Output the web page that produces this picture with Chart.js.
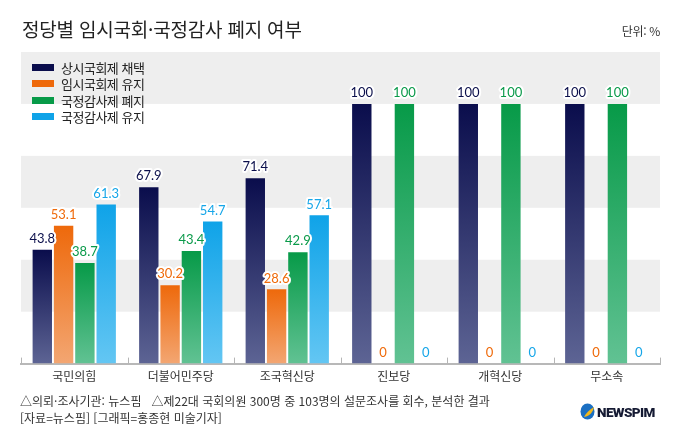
<!DOCTYPE html>
<html lang="ko">
<head>
<meta charset="utf-8">
<script src="https://cdn.jsdelivr.net/npm/chart.js@4.4.1/dist/chart.umd.min.js"></script>
<style>
  html, body { margin: 0; padding: 0; background: #fff; }
  #wrap { position: relative; width: 680px; height: 442px; overflow: hidden; font-family: 'Noto Sans CJK KR', 'Noto Sans', sans-serif; color: #333; }
  #chartBox { position: absolute; left: 0; top: 0; width: 680px; height: 442px; }
  .title { position: absolute; left: 22px; top: 15px; font-size: 19px; color: #222; letter-spacing: -0.2px; white-space: nowrap; }
  .unit { position: absolute; right: 20px; top: 22px; font-size: 12px; color: #333; letter-spacing: -0.3px; }
  .legend { position: absolute; left: 32px; top: 59px; }
  .legend .item { display: flex; align-items: center; height: 16.5px; font-size: 13px; color: #222; letter-spacing: -0.5px; white-space: nowrap; }
  .legend .box { width: 22px; height: 7px; margin-right: 7px; }
  .foot { position: absolute; left: 20px; font-size: 12px; color: #333; letter-spacing: 0px; white-space: nowrap; }
  .logo { position: absolute; left: 580px; top: 403px; display: flex; align-items: center; }
  .logo .txt { font-family: Roboto, 'Liberation Sans', sans-serif; font-weight: 900; font-size: 13.5px; color: #151a33; letter-spacing: -0.6px; margin-left: 2px; }
</style>
</head>
<body>
<div id="wrap">
  <div id="chartBox"><canvas id="c"></canvas></div>
  <div class="title">정당별 임시국회·국정감사 폐지 여부</div>
  <div class="unit">단위: %</div>
  <div class="legend" id="legend"></div>
  <div class="foot" style="top:392px">△의뢰·조사기관: 뉴스핌&nbsp;&nbsp;&nbsp;△제22대 국회의원 300명 중 103명의 설문조사를 회수, 분석한 결과</div>
  <div class="foot" style="top:409px">[자료=뉴스핌] [그래픽=홍종현 미술기자]</div>
  <div class="logo">
    <svg width="15" height="17" viewBox="0 0 15 17">
      <ellipse cx="7.5" cy="8.5" rx="7" ry="8" fill="#1b6fc2"/>
      <path d="M4 14 C6 10, 9 7, 14 4 C13 9, 10 13, 4 14 Z" fill="#f2b81c"/>
    </svg>
    <span class="txt">NEWSPIM</span>
  </div>
</div>
<script>
const categories = ['국민의힘', '더불어민주당', '조국혁신당', '진보당', '개혁신당', '무소속'];
const seriesNames = ['상시국회제 채택', '임시국회제 유지', '국정감사제 폐지', '국정감사제 유지'];
const adoptPermanent = [43.8, 67.9, 71.4, 100, 100, 100];
const keepExtraordinary = [53.1, 30.2, 28.6, 0, 0, 0];
const abolishAudit = [38.7, 43.4, 42.9, 100, 100, 100];
const keepAudit = [61.3, 54.7, 57.1, 0, 0, 0];
const yTicks = [0, 20, 40, 60, 80, 100, 120];

const topColors = ['#0a0d4c', '#ee690b', '#079a48', '#0fa3e8'];
const bottomColors = ['#5d6494', '#f3a672', '#61c293', '#63c6f3'];
const labelColors = ['#0b0f4b', '#ef6a0a', '#0a9a4a', '#16a6e8'];

const lg = document.getElementById('legend');
seriesNames.forEach((n, i) => {
  const d = document.createElement('div');
  d.className = 'item';
  d.innerHTML = '<span class="box" style="background:' + topColors[i] + '"></span><span>' + n + '</span>';
  lg.appendChild(d);
});

function grad(i) {
  return (ctx) => {
    const chart = ctx.chart;
    if (!chart.chartArea || ctx.type !== 'data') return topColors[i];
    const ys = chart.scales.y;
    const yTop = ys.getPixelForValue(ctx.parsed.y);
    const yBase = ys.getPixelForValue(0);
    if (yBase - yTop < 1) return topColors[i];
    const g = chart.ctx.createLinearGradient(0, yTop, 0, yBase);
    g.addColorStop(0, topColors[i]);
    g.addColorStop(1, bottomColors[i]);
    return g;
  };
}

const bandsPlugin = {
  id: 'bands',
  beforeDatasetsDraw(chart) {
    const { ctx, chartArea } = chart;
    const ys = chart.scales.y;
    ctx.save();
    ctx.fillStyle = '#eeeeee';
    for (let k = 1; k + 1 < yTicks.length; k += 2) {
      const y1 = ys.getPixelForValue(yTicks[k]);
      const y2 = ys.getPixelForValue(yTicks[k + 1]);
      ctx.fillRect(chartArea.left, y2, chartArea.right - chartArea.left, y1 - y2);
    }
    ctx.restore();
  }
};

const ticksPlugin = {
  id: 'upTicks',
  afterDraw(chart) {
    const { ctx, chartArea } = chart;
    const xs = chart.scales.x;
    const w = xs.getPixelForValue(1) - xs.getPixelForValue(0);
    ctx.save();
    ctx.strokeStyle = '#b5b5b5';
    ctx.lineWidth = 1;
    for (let i = 0; i <= categories.length; i++) {
      const x = Math.round(xs.getPixelForValue(0) - w / 2 + i * w) + 0.5;
      ctx.beginPath();
      ctx.moveTo(x, chartArea.bottom - 6);
      ctx.lineTo(x, chartArea.bottom);
      ctx.stroke();
    }
    ctx.restore();
  }
};

const labelPlugin = {
  id: 'valueLabels',
  afterDatasetsDraw(chart) {
    const { ctx } = chart;
    ctx.save();
    ctx.font = "13px Lato, 'Noto Sans', sans-serif";
    ctx.textAlign = 'center';
    ctx.textBaseline = 'middle';
    ctx.lineJoin = 'round';
    chart.data.datasets.forEach((ds, di) => {
      const meta = chart.getDatasetMeta(di);
      meta.data.forEach((el, j) => {
        const txt = String(ds.data[j]);
        const y = el.y - 11;
        ctx.strokeStyle = '#ffffff';
        ctx.lineWidth = 4;
        ctx.strokeText(txt, el.x, y);
        ctx.fillStyle = labelColors[di];
        ctx.fillText(txt, el.x, y);
      });
    });
    ctx.restore();
  }
};

const seriesData = [adoptPermanent, keepExtraordinary, abolishAudit, keepAudit];

new Chart(document.getElementById('c'), {
  type: 'bar',
  data: {
    labels: categories,
    datasets: seriesNames.map((n, i) => ({
      label: n,
      data: seriesData[i],
      backgroundColor: grad(i),
      borderWidth: 0,
      categoryPercentage: 0.8,
      barPercentage: 0.91
    }))
  },
  options: {
    responsive: true,
    maintainAspectRatio: false,
    animation: false,
    layout: { padding: { left: 21, right: 20, top: 52, bottom: 52 } },
    plugins: { legend: { display: false }, tooltip: { enabled: false } },
    scales: {
      x: {
        grid: { display: false, drawTicks: false, tickLength: 0 },
        border: { display: true, color: '#b8b8b8', width: 2 },
        ticks: { color: '#333', font: { size: 12, family: "'Noto Sans CJK KR', sans-serif" }, padding: 6, maxRotation: 0 }
      },
      y: {
        display: false,
        min: 0, max: 120,
        ticks: { stepSize: 20 }
      }
    }
  },
  plugins: [bandsPlugin, labelPlugin, ticksPlugin]
});
</script>
</body>
</html>
